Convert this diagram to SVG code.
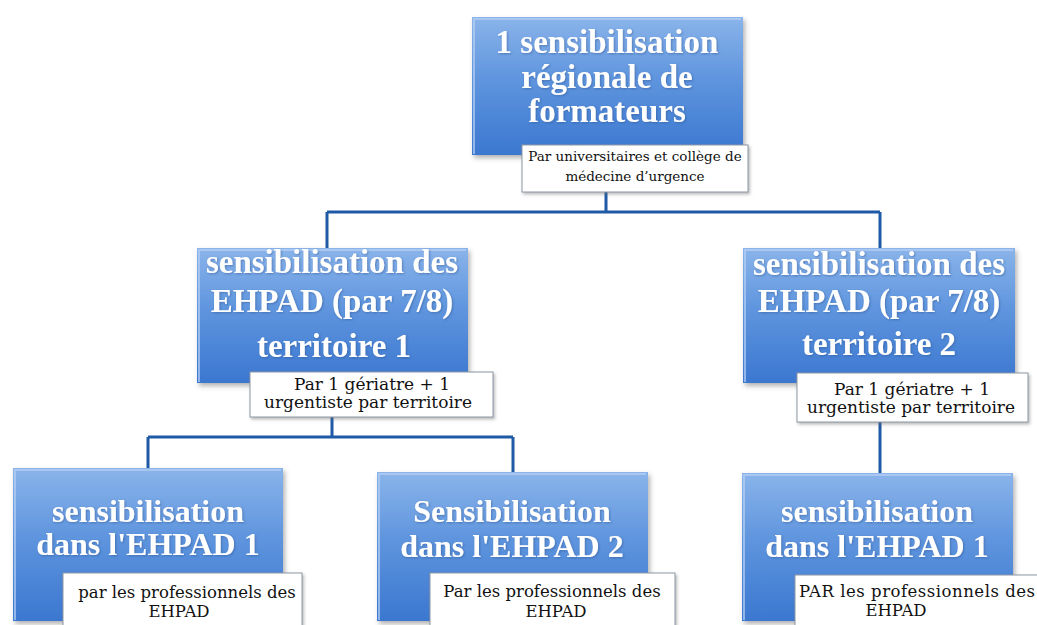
<svg xmlns="http://www.w3.org/2000/svg" width="1037" height="625" viewBox="0 0 1037 625">
<defs>
<linearGradient id="blueGrad" x1="0" y1="0" x2="0" y2="1">
<stop offset="0" stop-color="#8ab4ea"/>
<stop offset="0.45" stop-color="#5f95de"/>
<stop offset="1" stop-color="#3b77d0"/>
</linearGradient>
<filter id="shadow" x="-10%" y="-10%" width="130%" height="130%">
<feDropShadow dx="2" dy="3" stdDeviation="2.5" flood-color="#555" flood-opacity="0.45"/>
</filter>
<filter id="txtShadow" x="-5%" y="-20%" width="110%" height="140%">
<feDropShadow dx="1" dy="1" stdDeviation="0.8" flood-color="#2a4f8a" flood-opacity="0.5"/>
</filter>
<filter id="labShadow" x="-10%" y="-10%" width="130%" height="140%">
<feDropShadow dx="1.5" dy="2" stdDeviation="1.5" flood-color="#666" flood-opacity="0.45"/>
</filter>
</defs>
<style>
.box { fill: url(#blueGrad); filter: url(#shadow); }
.bevel { fill: none; stroke: #b7d0f3; stroke-width: 2; opacity: 0.7; }
.big { font-family: "Liberation Serif", "Times New Roman", serif; font-weight: bold; fill: #ffffff; text-anchor: middle; filter: url(#txtShadow); }
.lab { fill: #ffffff; stroke: #8d97a3; stroke-width: 1; filter: url(#labShadow); }
.small { font-family: "DejaVu Serif", "Liberation Serif", serif; fill: #111111; text-anchor: middle; }
.conn { stroke: #1f5aa6; stroke-width: 3; fill: none; }
</style>
<rect width="1037" height="625" fill="#ffffff"/>

<g id="connectors">
<path class="conn" d="M606 192 V212 M327 212 H880 M327 212 V248 M880 212 V248"/>
<path class="conn" d="M332 417 V437 M148 437 H513 M148 437 V468 M513 437 V472"/>
<path class="conn" d="M880 422 V473"/>
</g>

<g id="top">
<rect class="box" x="472" y="17" width="271" height="138"/>
<path class="bevel" d="M474 154 V19 H741"/>
<text class="big" font-size="33" x="607" y="53">1 sensibilisation</text>
<text class="big" font-size="33" x="607" y="88">régionale de</text>
<text class="big" font-size="33" x="607" y="122">formateurs</text>
</g>
<g id="top-label">
<rect class="lab" x="522" y="145" width="226" height="47"/>
<text class="small" font-size="13.5" x="635" y="161">Par universitaires et collège de</text>
<text class="small" font-size="13.5" x="635" y="181">médecine d’urgence</text>
</g>

<g id="territoire1">
<rect class="box" x="197" y="248" width="271" height="135"/>
<path class="bevel" d="M199 382 V250 H466"/>
<text class="big" font-size="33" x="332" y="273">sensibilisation des</text>
<text class="big" font-size="33" x="332" y="312">EHPAD (par 7/8)</text>
<text class="big" font-size="33" x="334" y="357">territoire 1</text>
</g>
<g id="territoire1-label">
<rect class="lab" x="250" y="372" width="243" height="45"/>
<text class="small" font-size="17" x="372" y="390">Par 1 gériatre + 1</text>
<text class="small" font-size="17" x="368" y="408">urgentiste par territoire</text>
</g>

<g id="territoire2">
<rect class="box" x="743" y="248" width="272" height="135"/>
<path class="bevel" d="M745 382 V250 H1013"/>
<text class="big" font-size="33" x="879" y="275">sensibilisation des</text>
<text class="big" font-size="33" x="879" y="312">EHPAD (par 7/8)</text>
<text class="big" font-size="33" x="879" y="355">territoire 2</text>
</g>
<g id="territoire2-label">
<rect class="lab" x="797" y="373" width="231" height="49"/>
<text class="small" font-size="17" x="912" y="395">Par 1 gériatre + 1</text>
<text class="small" font-size="17" x="911" y="413">urgentiste par territoire</text>
</g>

<g id="ehpad1-t1">
<rect class="box" x="13" y="468" width="270" height="153"/>
<path class="bevel" d="M15 620 V470 H281"/>
<text class="big" font-size="32" x="148" y="522">sensibilisation</text>
<text class="big" font-size="32" x="148" y="555">dans l'EHPAD 1</text>
</g>
<g id="ehpad1-t1-label">
<rect class="lab" x="63" y="573" width="239" height="60"/>
<text class="small" font-size="16.5" x="187" y="598">par les professionnels des</text>
<text class="small" font-size="16.5" x="179" y="617">EHPAD</text>
</g>

<g id="ehpad2-t1">
<rect class="box" x="377" y="472" width="271" height="149"/>
<path class="bevel" d="M379 620 V474 H646"/>
<text class="big" font-size="32" x="512" y="522">Sensibilisation</text>
<text class="big" font-size="32" x="512" y="557">dans l'EHPAD 2</text>
</g>
<g id="ehpad2-t1-label">
<rect class="lab" x="430" y="573" width="245" height="60"/>
<text class="small" font-size="16.5" x="552" y="597">Par les professionnels des</text>
<text class="small" font-size="16.5" x="556" y="617">EHPAD</text>
</g>

<g id="ehpad1-t2">
<rect class="box" x="742" y="473" width="271" height="148"/>
<path class="bevel" d="M744 620 V475 H1011"/>
<text class="big" font-size="32" x="877" y="522">sensibilisation</text>
<text class="big" font-size="32" x="877" y="557">dans l'EHPAD 1</text>
</g>
<g id="ehpad1-t2-label">
<rect class="lab" x="795" y="575" width="260" height="60"/>
<text class="small" font-size="16.5" x="799" y="597" text-anchor="start" style="text-anchor:start" textLength="236" lengthAdjust="spacing">PAR les professionnels des</text>
<text class="small" font-size="16.5" x="896" y="616">EHPAD</text>
</g>
</svg>
